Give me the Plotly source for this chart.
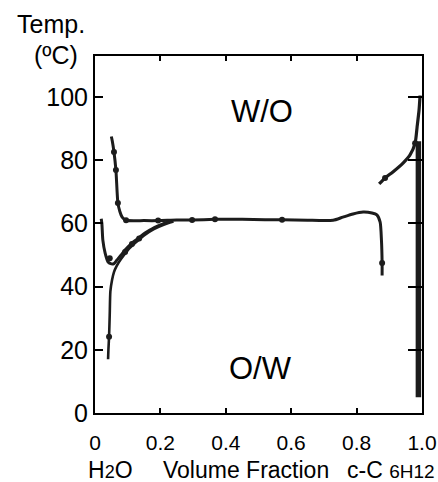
import plotly.graph_objects as go

# ---- data ----
# Upper-left W/O boundary, long plateau, drop near x~0.88
curve_a_x = [0.050, 0.053, 0.058, 0.064, 0.070, 0.076, 0.083, 0.095, 0.150, 0.193, 0.250,
             0.297, 0.367, 0.450, 0.520, 0.572, 0.650, 0.728, 0.758, 0.789, 0.820, 0.847,
             0.862, 0.872, 0.876, 0.878, 0.878]
curve_a_y = [87.5, 86.0, 82.6, 76.9, 66.5, 63.8, 62.0, 61.0, 60.9, 60.9, 61.1,
             61.1, 61.3, 61.3, 61.2, 61.2, 61.0, 61.0, 62.0, 63.0, 63.6, 63.3,
             62.7, 60.4, 54.7, 47.5, 43.5]
# Left branch descending from ~61 to a minimum then rising
curve_b_x = [0.019, 0.021, 0.024, 0.031, 0.040, 0.050, 0.058, 0.067, 0.080, 0.092, 0.113,
             0.135, 0.153, 0.175, 0.193, 0.215, 0.235]
curve_b_y = [61.5, 60.0, 54.7, 50.6, 47.8, 47.2, 47.3, 48.4, 50.0, 51.6, 53.8,
             55.5, 57.0, 58.3, 59.2, 60.2, 60.9]
# Lower branch rising from the bottom
curve_c_x = [0.040, 0.041, 0.043, 0.045, 0.047, 0.052, 0.058, 0.066, 0.080, 0.100, 0.125,
             0.150, 0.180, 0.210, 0.240]
curve_c_y = [17.0, 20.0, 24.1, 31.0, 38.5, 42.0, 44.6, 46.5, 48.8, 51.5, 54.0,
             56.2, 58.2, 59.6, 60.6]
# Upper-right branch near pure c-C6H12
curve_d_x = [0.869, 0.887, 0.911, 0.942, 0.963, 0.979, 0.985, 0.991, 0.994]
curve_d_y = [72.5, 74.4, 76.3, 79.1, 81.6, 85.4, 90.5, 95.9, 100.5]
# Vertical boundary at x ~ 1
curve_e_x = [0.989, 0.989]
curve_e_y = [5.0, 86.0]
# Measured points (dots)
dots_x = [0.058, 0.064, 0.070, 0.095, 0.193, 0.297, 0.367, 0.572, 0.878,
          0.043, 0.092, 0.113, 0.135, 0.887, 0.979, 0.045]
dots_y = [82.6, 76.9, 66.5, 61.0, 60.9, 61.1, 61.3, 61.2, 47.5,
          24.1, 51.0, 53.5, 55.2, 74.4, 85.4, 49.0]

x_ticks = [0, 0.2, 0.4, 0.6, 0.8, 1.0]
x_tick_text = ["0", "0.2", "0.4", "0.6", "0.8", "1.0"]
y_ticks = [0, 20, 40, 60, 80, 100]
y_tick_text = ["0", "20", "40", "60", "80", "100"]

FONT = "Liberation Sans, Arial, Helvetica, sans-serif"
INK = "#1c1c1c"

fig = go.Figure()
for cx, cy, w in [(curve_a_x, curve_a_y, 3), (curve_b_x, curve_b_y, 3),
                  (curve_c_x, curve_c_y, 2.6), (curve_d_x, curve_d_y, 3.2),
                  (curve_e_x, curve_e_y, 5.5)]:
    fig.add_trace(go.Scatter(x=cx, y=cy, mode="lines",
                             line=dict(color=INK, width=w, shape="spline", smoothing=0.6),
                             hoverinfo="skip", showlegend=False))
fig.add_trace(go.Scatter(x=dots_x, y=dots_y, mode="markers",
                         marker=dict(color=INK, size=6), hoverinfo="skip", showlegend=False))
# invisible trace for the right axis
fig.add_trace(go.Scatter(x=[0], y=[0], yaxis="y2", mode="markers",
                         marker=dict(opacity=0), hoverinfo="skip", showlegend=False))

L, R, T, B = 95, 422, 56, 413
def px(x):
    return (x - L) / (R - L)
def py(y):
    return (B - y) / (B - T)

fig.update_layout(
    width=438, height=482,
    margin=dict(l=L, r=438 - R, t=T, b=482 - B, pad=0, autoexpand=False),
    plot_bgcolor="white", paper_bgcolor="white",
    font=dict(family=FONT, color="black"),
    xaxis=dict(range=[0, 1.0], tickvals=x_ticks, ticktext=x_tick_text,
               ticks="inside", ticklen=5, tickwidth=2, tickcolor="black",
               showline=True, linewidth=2, linecolor="black", mirror="ticks",
               showgrid=False, zeroline=False, tickfont=dict(size=21),
               ticklabelstandoff=10, automargin=False),
    yaxis=dict(range=[0, 113], tickvals=y_ticks, ticktext=y_tick_text,
               ticks="inside", ticklen=8, tickwidth=2, tickcolor="black",
               showline=True, linewidth=2, linecolor="black",
               showgrid=False, zeroline=False, tickfont=dict(size=25),
               ticklabelstandoff=0, automargin=False),
    yaxis2=dict(range=[0, 113], overlaying="y", side="right", anchor="x",
                tickvals=[20, 40, 60, 80, 100], ticks="inside", ticklen=14,
                tickwidth=2, tickcolor="black", showticklabels=False,
                showline=True, linewidth=2, linecolor="black",
                showgrid=False, zeroline=False, automargin=False),
)

ann = [
    dict(text="W/O", x=0.511, y=95.3, xref="x", yref="y", size=31),
    dict(text="O/W", x=0.505, y=14.2, xref="x", yref="y", size=31),
    dict(text="Temp.", x=px(51), y=py(24), xref="paper", yref="paper", size=25),
    dict(text="(ºC)", x=px(56), y=py(55), xref="paper", yref="paper", size=25),
    dict(text="H<span style='font-size:18px'>2</span>O", x=px(110), y=py(470),
         xref="paper", yref="paper", size=23),
    dict(text="Volume Fraction", x=px(246), y=py(470), xref="paper", yref="paper", size=23),
    dict(text="c-C <span style='font-size:19px'>6H12</span>", x=px(391), y=py(470),
         xref="paper", yref="paper", size=23),
]
for a in ann:
    fig.add_annotation(text=a["text"], x=a["x"], y=a["y"], xref=a["xref"], yref=a["yref"],
                       showarrow=False, xanchor="center", yanchor="middle",
                       font=dict(size=a["size"], family=FONT, color="black"))

fig.write_html("out.html", config={"displayModeBar": False},
               post_script="document.body.style.margin='0';document.body.style.padding='0';")
